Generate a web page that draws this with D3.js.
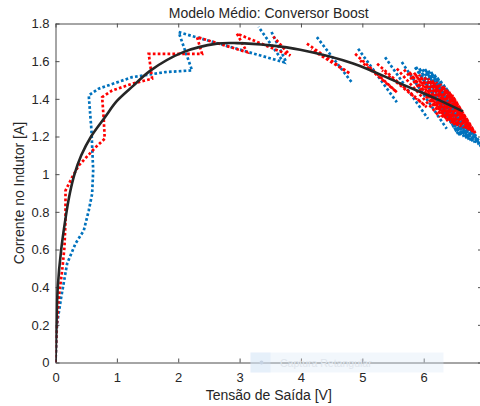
<!DOCTYPE html>
<html>
<head>
<meta charset="utf-8">
<script src="https://cdn.jsdelivr.net/npm/d3@7/dist/d3.min.js"></script>
<style>
body { margin: 0; background: #fff; }
svg text { font-family: "Liberation Sans", Arial, sans-serif; fill: #262626; }
</style>
</head>
<body>
<svg id="chart" width="480" height="406"></svg>
<script>
// tick values / labels
const xTicks = [0, 1, 2, 3, 4, 5, 6];
const yTicks = [0, 0.2, 0.4, 0.6, 0.8, 1, 1.2, 1.4, 1.6, 1.8];

// average model (solid black)
const avgX = [0, 0.016, 0.037, 0.093, 0.18, 0.235, 0.31, 0.42, 0.58, 0.80, 1.005, 1.27, 1.546, 2.083, 2.63, 2.957, 3.5, 3.988, 4.85, 5.615, 6.17, 6.64];
const avgY = [0, 0.2, 0.4, 0.6, 0.8, 0.9, 1.0, 1.1, 1.2, 1.3, 1.39, 1.47, 1.55, 1.648, 1.693, 1.696, 1.684, 1.661, 1.588, 1.482, 1.405, 1.333];

// switched model, low frequency (blue) - pieces
const blueStart = [[0, 0], [0.024, 0.202], [0.093, 0.347], [0.19, 0.526], [0.326, 0.632], [0.461, 0.701],
  [0.542, 0.807], [0.597, 0.896], [0.614, 1.02], [0.586, 1.232], [0.542, 1.418], [0.705, 1.454],
  [1.248, 1.515], [1.79, 1.542], [2.225, 1.551], [2.007, 1.754], [3.716, 1.595], [3.309, 1.782]];
const blueSteps = [
  [[3.52, 1.755], [3.76, 1.595]],
  [[4.259, 1.728], [4.829, 1.487]],
  [[4.932, 1.666], [5.562, 1.382]],
  [[5.371, 1.621], [6.071, 1.294]],
  [[5.643, 1.595], [6.375, 1.241]],
  [[5.859, 1.568], [6.592, 1.205]]
];
const blueDense = [
  [5.874, 1.569], [6.559, 1.215], [5.923, 1.564], [6.608, 1.205], [5.972, 1.561], [6.656, 1.199],
  [6.021, 1.558], [6.705, 1.189], [6.070, 1.553], [6.737, 1.184], [6.119, 1.543], [6.770, 1.179],
  [6.168, 1.532], [6.802, 1.173], [6.216, 1.516], [6.835, 1.168], [6.265, 1.500], [6.867, 1.163],
  [6.314, 1.479], [6.900, 1.157], [6.363, 1.458], [6.932, 1.147], [6.412, 1.431], [6.965, 1.142]];

// switched model, high frequency (red)
const redStart = [[0, 0], [0.016, 0.17], [0.054, 0.347], [0.109, 0.489], [0.146, 0.612], [0.163, 0.754],
  [0.163, 0.913], [0.272, 0.984], [0.379, 1.046], [0.651, 1.142], [0.802, 1.188], [0.786, 1.294],
  [0.76, 1.409], [0.923, 1.444], [1.248, 1.48], [1.574, 1.507], [1.519, 1.639], [2.388, 1.639],
  [2.306, 1.728], [3.12, 1.648], [2.957, 1.746], [3.825, 1.63], [3.55, 1.73]];
const redSteps = [
  [[4.097, 1.693], [4.801, 1.533], [4.167, 1.662]],
  [[4.883, 1.639], [5.562, 1.435], [4.964, 1.603]],
  [[5.241, 1.586], [6.05, 1.356], [5.322, 1.551]],
  [[5.562, 1.56], [6.266, 1.303]]
];
const redDense = [
  [5.679, 1.555], [6.330, 1.298], [5.760, 1.544], [6.395, 1.282], [5.842, 1.539], [6.461, 1.272],
  [5.923, 1.529], [6.510, 1.261], [6.005, 1.518], [6.559, 1.256], [6.070, 1.508], [6.608, 1.251],
  [6.135, 1.497], [6.656, 1.245], [6.200, 1.489], [6.705, 1.240], [6.265, 1.479], [6.737, 1.235],
  [6.314, 1.468], [6.770, 1.229], [6.363, 1.452], [6.802, 1.224], [6.412, 1.436], [6.835, 1.219],
  [6.461, 1.420], [6.852, 1.213]];

const blueColor = '#0072BD';
const redColor = '#FF0000';
const avgColor = '#262626';
const axisColor = '#4d4d4d';

const plotLeft = 55.5, plotRight = 482, plotTop = 23.5, plotBottom = 362.5;

const svg = d3.select('#chart');

const x = d3.scaleLinear().domain([0, 6.95]).range([plotLeft, plotRight]);
const y = d3.scaleLinear().domain([0, 1.8]).range([plotBottom, plotTop]);

svg.append('defs').append('clipPath').attr('id', 'plotclip')
  .append('rect')
  .attr('x', plotLeft).attr('y', plotTop)
  .attr('width', plotRight - plotLeft).attr('height', plotBottom - plotTop);

// axes (MATLAB style, ticks pointing in)
const xAxis = svg.append('g')
  .attr('transform', `translate(0,${plotBottom})`)
  .call(d3.axisBottom(x).tickValues(xTicks).tickFormat(d3.format('d'))
    .tickSizeInner(-4).tickSizeOuter(0).tickPadding(10));

const yAxis = svg.append('g')
  .attr('transform', `translate(${plotLeft},0)`)
  .call(d3.axisLeft(y).tickValues(yTicks).tickFormat(d => d3.format('~g')(d))
    .tickSizeInner(-4).tickSizeOuter(0).tickPadding(6));

const xTop = svg.append('g')
  .attr('transform', `translate(0,${plotTop})`)
  .call(d3.axisTop(x).tickValues(xTicks).tickFormat('').tickSizeInner(-4).tickSizeOuter(0));

const yRight = svg.append('g')
  .attr('transform', `translate(${plotRight},0)`)
  .call(d3.axisRight(y).tickValues(yTicks).tickFormat('').tickSizeInner(-4).tickSizeOuter(0));

[xAxis, yAxis, xTop, yRight].forEach(g => {
  g.select('.domain').attr('stroke', axisColor);
  g.selectAll('.tick line').attr('stroke', axisColor);
  g.selectAll('.tick text')
    .style('font-family', '"Liberation Sans", Arial, sans-serif')
    .style('font-size', '13px')
    .attr('fill', '#262626');
});

// data lines
const plot = svg.append('g').attr('clip-path', 'url(#plotclip)');

const line = d3.line()
  .x(d => x(d[0]))
  .y(d => y(d[1]));

function dotted(pieces, color) {
  plot.append('g')
    .selectAll('path')
    .data(pieces)
    .join('path')
    .attr('d', line)
    .attr('fill', 'none')
    .attr('stroke', color)
    .attr('stroke-width', 2.7)
    .attr('stroke-dasharray', '2.7 2.2')
    .attr('stroke-linejoin', 'miter');
}

dotted([blueStart, ...blueSteps, blueDense], blueColor);
dotted([redStart, ...redSteps, redDense], redColor);

const avg = avgX.map((v, i) => [v, avgY[i]]);
plot.append('path')
  .datum(avg)
  .attr('d', d3.line().x(d => x(d[0])).y(d => y(d[1])).curve(d3.curveCatmullRom.alpha(0.5)))
  .attr('fill', 'none')
  .attr('stroke', avgColor)
  .attr('stroke-width', 2.6);

// faint screen-capture overlay seen in the picture
const cap = svg.append('g');
cap.append('rect')
  .attr('x', 250.5).attr('y', 352.5).attr('width', 193).attr('height', 20)
  .attr('fill', '#dbe8f7').attr('opacity', 0.35);
cap.append('rect')
  .attr('x', 250.5).attr('y', 352.5).attr('width', 20).attr('height', 20)
  .attr('fill', '#d2e2f5').attr('opacity', 0.35);
cap.append('circle')
  .attr('cx', 261.5).attr('cy', 362.5).attr('r', 2)
  .attr('fill', '#c5d2e2');
cap.append('text')
  .attr('x', 280).attr('y', 366.5)
  .style('font-size', '10.5px')
  .style('fill', '#dfe5ec')
  .text('Captura Retangular');

// title and labels
svg.append('text')
  .attr('x', (plotLeft + plotRight) / 2).attr('y', 17.5)
  .attr('text-anchor', 'middle')
  .style('font-size', '14px')
  .text('Modelo Médio: Conversor Boost');

svg.append('text')
  .attr('x', (plotLeft + plotRight) / 2).attr('y', 400)
  .attr('text-anchor', 'middle')
  .style('font-size', '14px')
  .text('Tensão de Saída [V]');

svg.append('text')
  .attr('transform', `translate(23.5,${(plotTop + plotBottom) / 2}) rotate(-90)`)
  .attr('text-anchor', 'middle')
  .style('font-size', '14px')
  .text('Corrente no Indutor [A]');
</script>
</body>
</html>
